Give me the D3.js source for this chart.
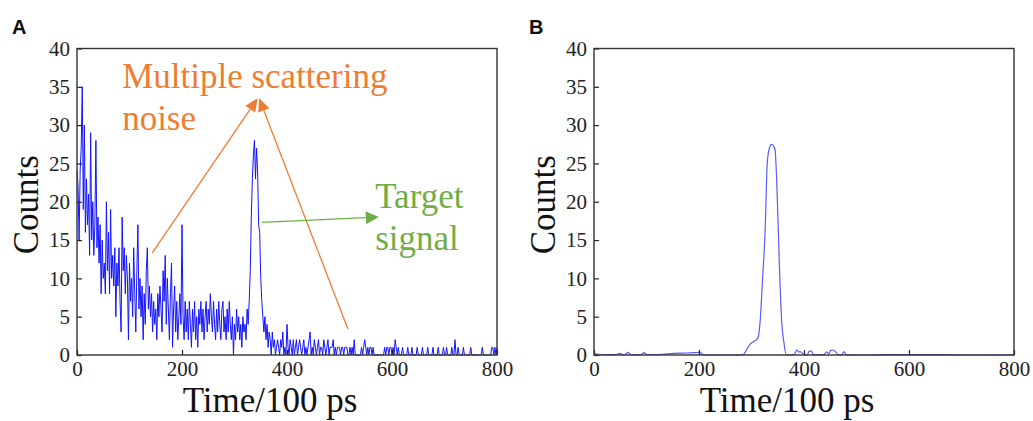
<!DOCTYPE html>
<html>
<head>
<meta charset="utf-8">
<script src="https://cdn.jsdelivr.net/npm/d3@7"></script>
<style>
  html, body { margin: 0; padding: 0; background: #fff; }
  svg { display: block; }
</style>
</head>
<body>
<svg id="chart" width="1033" height="421"></svg>
<script>
// ---------------- DATA ----------------
const xTicks = [0, 200, 400, 600, 800];
const yTicks = [0, 5, 10, 15, 20, 25, 30, 35, 40];

// Panel A: raw photon counts, one value every 2 time units (0..800)
const aStep = 2;
const aCounts = [
  24,22,15,24,27,35,19,30,16,23,17,21,13,29,15,20,13,17,28,14,18,12,17,8,15,
  10,12,8,20,11,16,8,19,10,13,9,14,5,12,9,14,7,3,18,11,14,8,13,10,2,
  12,7,10,5,14,8,3,11,17,6,10,5,9,2,8,4,11,14,6,9,5,8,3,7,4,
  6,2,8,5,9,6,3,11,7,13,4,10,6,2,8,12,1,6,9,3,7,2,5,8,4,
  17,5,2,7,3,6,2,7,4,1,6,3,7,2,5,1,6,4,7,3,6,2,5,7,3,
  6,4,8,5,3,7,4,2,6,3,7,4,2,6,7,3,5,2,6,3,7,4,2,5,0,
  4,2,6,3,5,2,4,1,5,3,4,2,6,4,7,11,18,23,26,28,23,27,24,17,16,
  10,7,5,3,5,2,4,1,3,2,0,3,1,2,0,1,2,1,0,2,1,3,0,1,0,
  4,1,0,2,1,0,2,0,1,2,0,1,2,1,0,1,2,0,1,0,1,2,3,0,1,
  0,2,1,0,1,2,0,1,1,0,2,1,0,1,2,0,1,1,1,2,0,1,0,1,1,
  1,0,1,1,0,1,1,1,0,0,1,0,1,0,2,0,0,0,0,0,0,1,0,1,2,
  1,0,1,0,1,1,0,1,0,0,0,0,0,0,0,0,0,0,1,0,1,1,0,1,1,
  0,1,0,2,1,0,1,0,0,0,1,0,0,0,0,1,0,0,0,1,0,0,0,0,1,
  0,0,0,0,1,0,0,0,0,1,0,0,0,0,1,0,0,0,0,1,0,0,0,0,1,
  0,0,1,0,0,0,0,1,0,0,2,0,0,1,0,0,0,0,1,0,0,0,0,0,0,
  1,0,0,0,0,0,0,0,0,0,0,1,0,0,0,0,0,0,0,0,1,1,0,1,0,1
];

// Panel B: denoised (smooth) signal
const bTime = [0,10,20,40,50,55,60,65,70,80,
  90,95,100,110,130,150,170,190,200,205,
  210,250,280,285,290,297,305,312,316,321,
  326,330,334,338,342,345,348,353,357,362,
  366,375,382,386,390,394,400,406,410,414,
  418,425,438,443,447,451,455,459,465,472,
  476,480,490,520,560,600,650,700,750,800];
const bCounts = [0.2,0.1,0.05,0.05,0.2,0.05,0.1,0.35,0.05,0.05,
  0.05,0.3,0.1,0.05,0.1,0.2,0.25,0.3,0.35,0.2,
  0,0,0,0.1,0.6,1.4,1.8,2.2,4,9.8,
  16.3,25,27,27.5,27.3,26.7,22.8,12,5,1.5,
  0,0,0.1,0.65,0.4,0.4,0.05,0,0.5,0.5,
  0.05,0,0.05,0.4,0.2,0.6,0.65,0.5,0.05,0,
  0.45,0.05,0,0,0.05,0.05,0.05,0,0,0];

// Annotations (data coordinates)
const noiseLabel = ["Multiple scattering", "noise"];
const signalLabel = ["Target", "signal"];

// ---------------- DRAW ----------------
const svg = d3.select("#chart");
const serif = "'Liberation Serif', 'Times New Roman', serif";
const ORANGE = "#ED7D31", GREEN = "#70AD47";

function panel(opts) {
  const x = d3.scaleLinear().domain([0, 800]).range([opts.left, opts.right]);
  const y = d3.scaleLinear().domain([0, 40]).range([opts.bottom, opts.top]);
  const g = svg.append("g");

  // data line
  g.append("path")
    .datum(opts.data)
    .attr("fill", "none")
    .attr("stroke", opts.color)
    .attr("stroke-width", opts.width)
    .attr("stroke-linejoin", "round")
    .attr("d", d3.line().x(d => x(d[0])).y(d => y(d[1])).curve(opts.curve));

  // axes (ticks inward)
  const xa = g.append("g").attr("transform", `translate(0,${opts.bottom})`)
    .call(d3.axisBottom(x).tickValues(xTicks).tickSize(-5).tickPadding(6).tickFormat(d3.format("d")));
  const ya = g.append("g").attr("transform", `translate(${opts.left},0)`)
    .call(d3.axisLeft(y).tickValues(yTicks).tickSize(-5).tickPadding(7).tickFormat(d3.format("d")));
  [xa, ya].forEach(a => {
    a.attr("font-family", serif);
    a.select(".domain").remove();
    a.selectAll(".tick line").attr("stroke", "#222").attr("stroke-width", 1.2);
    a.selectAll(".tick text").attr("font-family", serif).attr("font-size", 21).attr("fill", "#222");
  });
  xa.selectAll(".tick text").attr("dy", "0.71em");

  // frame
  g.append("rect")
    .attr("x", opts.left).attr("y", opts.top)
    .attr("width", opts.right - opts.left).attr("height", opts.bottom - opts.top)
    .attr("fill", "none").attr("stroke", "#333").attr("stroke-width", 1.4);

  // axis titles
  g.append("text")
    .attr("x", (opts.left + opts.right) / 2 - 17).attr("y", 412)
    .attr("text-anchor", "middle")
    .attr("font-family", serif).attr("font-size", 35).attr("fill", "#111")
    .text("Time/100 ps");
  g.append("text")
    .attr("transform", `translate(${opts.left - 39},${(opts.top + opts.bottom) / 2 + 3}) rotate(-90)`)
    .attr("text-anchor", "middle")
    .attr("font-family", serif).attr("font-size", 35).attr("fill", "#111")
    .text("Counts");

  // panel letter
  g.append("text")
    .attr("x", opts.left - 65).attr("y", 34)
    .attr("font-family", "'Liberation Sans', Arial, sans-serif")
    .attr("font-weight", "bold").attr("font-size", 20).attr("fill", "#111")
    .text(opts.letter);

  return { g, x, y };
}

function arrow(g, x1, y1, x2, y2, color, len, half) {
  const ang = Math.atan2(y2 - y1, x2 - x1);
  const bx = x2 - len * Math.cos(ang), by = y2 - len * Math.sin(ang);
  g.append("line")
    .attr("x1", x1).attr("y1", y1).attr("x2", bx).attr("y2", by)
    .attr("stroke", color).attr("stroke-width", 1.3);
  const px = -Math.sin(ang) * half, py = Math.cos(ang) * half;
  g.append("path")
    .attr("d", `M${x2},${y2}L${bx + px},${by + py}L${bx - px},${by - py}Z`)
    .attr("fill", color);
}

// Panel A
const aData = aCounts.map((v, i) => [i * aStep, v]);
const A = panel({ left: 77, right: 497, top: 48.5, bottom: 355, letter: "A",
  data: aData, color: "#1414ff", width: 1, curve: d3.curveLinear });

// Panel B
const bData = bTime.map((t, i) => [t, bCounts[i]]);
const B = panel({ left: 594, right: 1014, top: 48.5, bottom: 355, letter: "B",
  data: bData, color: "#5b5bff", width: 1.2, curve: d3.curveMonotoneX });

// Annotations in panel A
const ax = A.x, ay = A.y;
noiseLabel.forEach((t, i) => {
  A.g.append("text")
    .attr("x", ax(86)).attr("y", ay(i === 0 ? 34.9 : 29.3))
    .attr("font-family", serif).attr("font-size", 35).attr("fill", ORANGE)
    .text(t);
});
signalLabel.forEach((t, i) => {
  A.g.append("text")
    .attr("x", ax(568)).attr("y", ay(i === 0 ? 19.2 : 13.7))
    .attr("font-family", serif).attr("font-size", 35).attr("fill", GREEN)
    .text(t);
});
arrow(A.g, ax(143), ay(13.3), ax(344), ay(33.5), ORANGE, 13, 6);
arrow(A.g, ax(516), ay(3.4), ax(347), ay(33.5), ORANGE, 13, 6);
arrow(A.g, ax(352), ay(17.3), ax(575), ay(18), GREEN, 13, 6.5);
</script>
</body>
</html>
